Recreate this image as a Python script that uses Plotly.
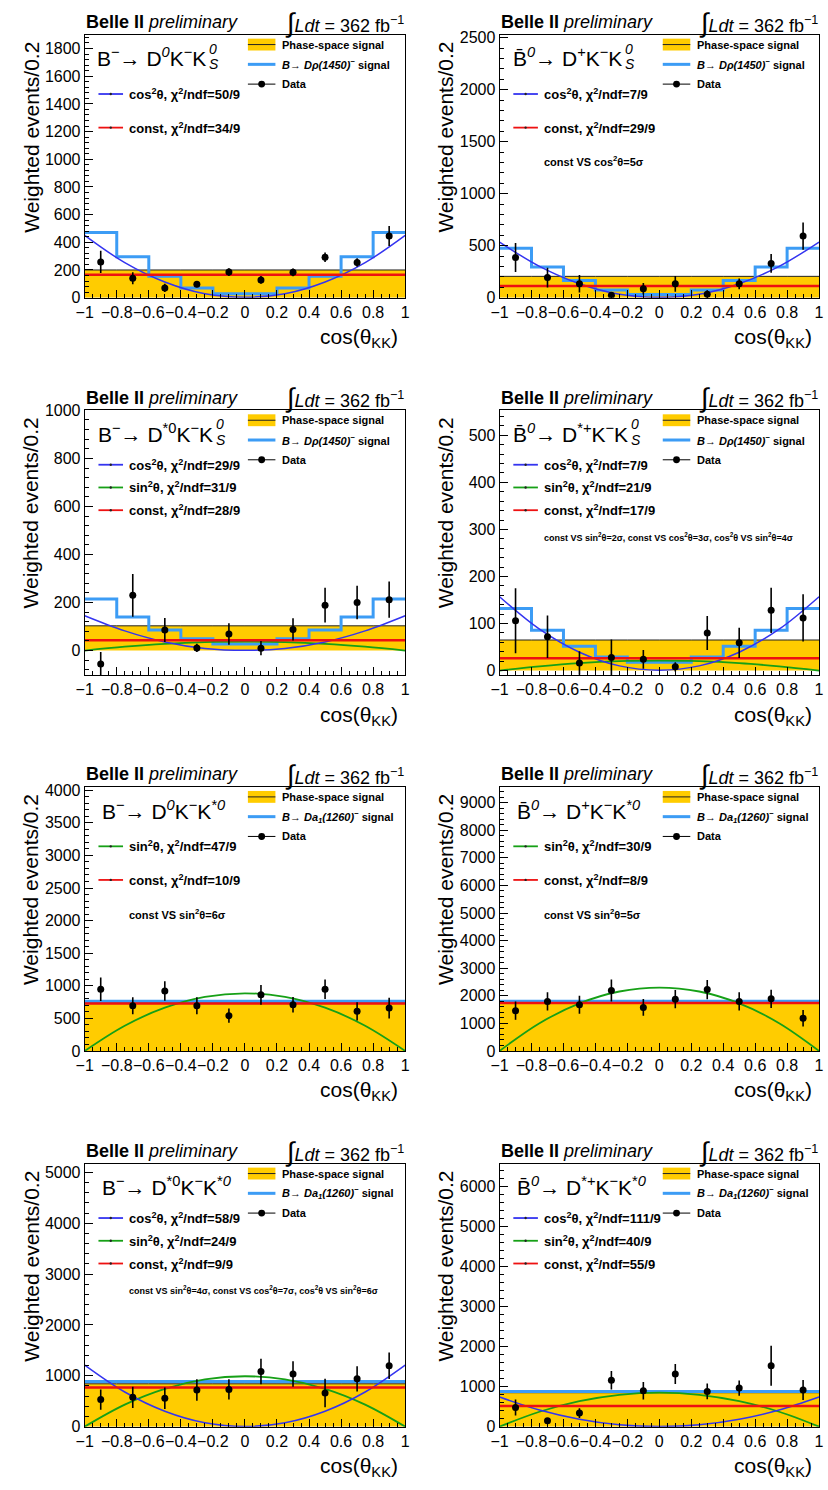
import plotly.graph_objects as go

W, H = 828, 1490
FONT = "Liberation Sans, Arial, Helvetica, sans-serif"

# ---------------- shared binning / axes ----------------
bin_edges = [-1.0, -0.8, -0.6, -0.4, -0.2, 0.0, 0.2, 0.4, 0.6, 0.8, 1.0]
bin_centers = [-0.9, -0.7, -0.5, -0.3, -0.1, 0.1, 0.3, 0.5, 0.7, 0.9]
fit_x = [-1.0, -0.75, -0.5, -0.25, 0.0, 0.25, 0.5, 0.75, 1.0]
x_tick_vals = [-1, -0.8, -0.6, -0.4, -0.2, 0, 0.2, 0.4, 0.6, 0.8, 1]
x_tick_text = ["\u22121", "\u22120.8", "\u22120.6", "\u22120.4", "\u22120.2", "0",
               "0.2", "0.4", "0.6", "0.8", "1"]

# ---------------- panel 1: B- -> D0 K- KS0 ----------------
p1_data = [258, 140, 70, 97, 185, 128, 183, 292, 254, 446]
p1_err = [80, 43, 30, 22, 28, 28, 28, 35, 30, 72]
p1_phsp = [200, 200, 200, 200, 200, 200, 200, 200, 200, 200]
p1_sig = [470, 295, 155, 70, 28, 28, 70, 155, 295, 470]
p1_const = 166
p1_cos2 = [450, 253, 113, 28, 3, 28, 113, 253, 450]
p1_sin2 = None
p1_yrange = [0, 1900]
p1_dtick = 200

# ---------------- panel 2: B0bar -> D+ K- KS0 ----------------
p2_data = [386, 193, 133, 22, 85, 133, 32, 133, 329, 592]
p2_err = [140, 95, 84, 30, 55, 75, 40, 52, 90, 130]
p2_phsp = [205, 205, 205, 205, 205, 205, 205, 205, 205, 205]
p2_sig = [475, 294, 165, 73, 30, 30, 73, 165, 294, 475]
p2_const = 111
p2_cos2 = [535, 301, 134, 33, 3, 33, 134, 301, 535]
p2_sin2 = None
p2_yrange = [0, 2530]
p2_dtick = 500

# ---------------- panel 3: B- -> D*0 K- KS0 ----------------
p3_data = [-56, 230, 86, 11, 69, 10, 88, 189, 200, 212]
p3_err = [50, 89, 50, 17, 45, 30, 46, 72, 70, 75]
p3_phsp = [103, 103, 103, 103, 103, 103, 103, 103, 103, 103]
p3_sig = [215, 140, 86, 49, 27, 27, 49, 86, 140, 215]
p3_const = 43
p3_cos2 = [145, 82, 36, 9, 1, 9, 36, 82, 145]
p3_sin2 = [0, 16, 28, 35, 37, 35, 28, 16, 0]
p3_yrange = [-103, 1000]
p3_dtick = 200

# ---------------- panel 4: B0bar -> D*+ K- KS0 ----------------
p4_data = [106, 72, 16, 28, 24, 8, 80, 59, 128, 112]
p4_err = [69, 45, 25, 38, 20, 10, 36, 32, 48, 50]
p4_phsp = [65, 65, 65, 65, 65, 65, 65, 65, 65, 65]
p4_sig = [132, 86, 52, 29, 18, 18, 29, 52, 86, 132]
p4_const = 26
p4_cos2 = [157, 88, 39, 10, 1, 10, 39, 88, 157]
p4_sin2 = [0, 9, 16, 20, 21, 20, 16, 9, 0]
p4_yrange = [-10, 553]
p4_dtick = 100

# ---------------- panel 5: B- -> D0 K- K*0 ----------------
p5_data = [947, 694, 921, 694, 542, 861, 709, 947, 608, 658]
p5_err = [180, 130, 150, 130, 110, 150, 120, 150, 140, 160]
p5_phsp = [740, 740, 740, 740, 740, 740, 740, 740, 740, 740]
p5_sig = [762, 762, 762, 762, 762, 762, 762, 762, 762, 762]
p5_const = 730
p5_cos2 = None
p5_sin2 = [0, 387, 664, 830, 885, 830, 664, 387, 0]
p5_yrange = [0, 4050]
p5_dtick = 500

# ---------------- panel 6: B0bar -> D+ K- K*0 ----------------
p6_data = [1460, 1795, 1675, 2190, 1580, 1879, 2226, 1795, 1890, 1185]
p6_err = [330, 330, 330, 400, 300, 330, 350, 330, 330, 300]
p6_phsp = [1760, 1760, 1760, 1760, 1760, 1760, 1760, 1760, 1760, 1760]
p6_sig = [1800, 1800, 1800, 1800, 1800, 1800, 1800, 1800, 1800, 1800]
p6_const = 1735
p6_cos2 = None
p6_sin2 = [0, 1006, 1725, 2156, 2300, 2156, 1725, 1006, 0]
p6_yrange = [0, 9570]
p6_dtick = 1000

# ---------------- panel 7: B- -> D*0 K- K*0 ----------------
p7_data = [531, 576, 557, 719, 732, 1082, 1036, 661, 939, 1198]
p7_err = [200, 210, 210, 210, 200, 250, 250, 280, 250, 260]
p7_phsp = [842, 842, 842, 842, 842, 842, 842, 842, 842, 842]
p7_sig = [887, 887, 887, 887, 887, 887, 887, 887, 887, 887]
p7_const = 771
p7_cos2 = [1210, 681, 303, 76, 3, 76, 303, 681, 1210]
p7_sin2 = [0, 433, 743, 928, 990, 928, 743, 433, 0]
p7_yrange = [0, 5170]
p7_dtick = 1000

# ---------------- panel 8: B0bar -> D*+ K- K*0 ----------------
p8_data = [478, 148, 338, 1162, 898, 1319, 882, 964, 1525, 915]
p8_err = [200, 60, 120, 230, 220, 250, 200, 190, 500, 250]
p8_phsp = [849, 849, 849, 849, 849, 849, 849, 849, 849, 849]
p8_sig = [882, 882, 882, 882, 882, 882, 882, 882, 882, 882]
p8_const = 519
p8_cos2 = [740, 416, 185, 46, 3, 46, 185, 416, 740]
p8_sin2 = [0, 372, 638, 797, 850, 797, 638, 372, 0]
p8_yrange = [0, 6580]
p8_dtick = 1000

# ---------------- texts ----------------
# decay labels: main part; for K_S^0 final states the stacked "0"/"S" is drawn separately
decay_main = [
    "B<sup>\u2212</sup>\u2192 D<sup><i>0</i></sup>K<sup>\u2212</sup>K",
    "B\u0304<sup><i>0</i></sup>\u2192 D<sup>+</sup>K<sup>\u2212</sup>K",
    "B<sup>\u2212</sup>\u2192 D<sup>*0</sup>K<sup>\u2212</sup>K",
    "B\u0304<sup><i>0</i></sup>\u2192 D<sup>*+</sup>K<sup>\u2212</sup>K",
    "B<sup>\u2212</sup>\u2192 D<sup><i>0</i></sup>K<sup>\u2212</sup>K<sup>*<i>0</i></sup>",
    "B\u0304<sup><i>0</i></sup>\u2192 D<sup>+</sup>K<sup>\u2212</sup>K<sup>*<i>0</i></sup>",
    "B<sup>\u2212</sup>\u2192 D<sup>*0</sup>K<sup>\u2212</sup>K<sup>*<i>0</i></sup>",
    "B\u0304<sup><i>0</i></sup>\u2192 D<sup>*+</sup>K<sup>\u2212</sup>K<sup>*<i>0</i></sup>",
]
ks_stack = [True, True, True, True, False, False, False, False]
kend_px = [124, 126, 132, 132, None, None, None, None]
chi2_cos = ["50/9", "7/9", "29/9", "7/9", None, None, "58/9", "111/9"]
chi2_sin = [None, None, "31/9", "21/9", "47/9", "30/9", "24/9", "40/9"]
chi2_const = ["34/9", "29/9", "28/9", "17/9", "10/9", "8/9", "9/9", "55/9"]
signif_text = [
    None,
    "const VS cos<sup>2</sup>\u03b8=5\u03c3",
    None,
    "const VS sin<sup>2</sup>\u03b8=2\u03c3, const VS cos<sup>2</sup>\u03b8=3\u03c3, cos<sup>2</sup>\u03b8 VS sin<sup>2</sup>\u03b8=4\u03c3",
    "const VS sin<sup>2</sup>\u03b8=6\u03c3",
    "const VS sin<sup>2</sup>\u03b8=5\u03c3",
    "const VS sin<sup>2</sup>\u03b8=4\u03c3, const VS cos<sup>2</sup>\u03b8=7\u03c3, cos<sup>2</sup>\u03b8 VS sin<sup>2</sup>\u03b8=6\u03c3",
    None,
]
signal_names = ["<i>B\u2192 D\u03c1(1450)</i><sup>\u2212</sup> signal"] * 4 + \
               ["<i>B\u2192 Da<sub>1</sub>(1260)</i><sup>\u2212</sup> signal"] * 4

panels = [
    dict(data=p1_data, err=p1_err, phsp=p1_phsp, sig=p1_sig, const=p1_const, cos2=p1_cos2, sin2=p1_sin2, yr=p1_yrange, dt=p1_dtick),
    dict(data=p2_data, err=p2_err, phsp=p2_phsp, sig=p2_sig, const=p2_const, cos2=p2_cos2, sin2=p2_sin2, yr=p2_yrange, dt=p2_dtick),
    dict(data=p3_data, err=p3_err, phsp=p3_phsp, sig=p3_sig, const=p3_const, cos2=p3_cos2, sin2=p3_sin2, yr=p3_yrange, dt=p3_dtick),
    dict(data=p4_data, err=p4_err, phsp=p4_phsp, sig=p4_sig, const=p4_const, cos2=p4_cos2, sin2=p4_sin2, yr=p4_yrange, dt=p4_dtick),
    dict(data=p5_data, err=p5_err, phsp=p5_phsp, sig=p5_sig, const=p5_const, cos2=p5_cos2, sin2=p5_sin2, yr=p5_yrange, dt=p5_dtick),
    dict(data=p6_data, err=p6_err, phsp=p6_phsp, sig=p6_sig, const=p6_const, cos2=p6_cos2, sin2=p6_sin2, yr=p6_yrange, dt=p6_dtick),
    dict(data=p7_data, err=p7_err, phsp=p7_phsp, sig=p7_sig, const=p7_const, cos2=p7_cos2, sin2=p7_sin2, yr=p7_yrange, dt=p7_dtick),
    dict(data=p8_data, err=p8_err, phsp=p8_phsp, sig=p8_sig, const=p8_const, cos2=p8_cos2, sin2=p8_sin2, yr=p8_yrange, dt=p8_dtick),
]

# ---------------- styling / layout geometry (pixels) ----------------
ORANGE = "#ffcc00"
SIGBLUE = "#3c9cf5"
CURVEBLUE = "#3434f0"
GREEN = "#16a016"
RED = "#ee1111"
col_px = [(77, 403), (499, 824)]
row_px = [(27, 293), (407, 675), (788, 1055), (1169, 1435)]


def P(x, y):
    return x / W, 1 - y / H


fig = go.Figure()
annotations = []
shapes = []


def ann(x, y, text, size, xanchor="left", yanchor="middle", angle=0, color="black"):
    px, py = P(x, y)
    annotations.append(dict(x=px, y=py, xref="paper", yref="paper", text=text,
                            showarrow=False, xanchor=xanchor, yanchor=yanchor,
                            textangle=angle, borderpad=0,
                            font=dict(family=FONT, size=size, color=color)))


def hline(x0, x1, y, color, width):
    a0, b0 = P(x0, y)
    a1, _ = P(x1, y)
    shapes.append(dict(type="line", xref="paper", yref="paper", x0=a0, x1=a1, y0=b0, y1=b0,
                       line=dict(color=color, width=width)))


def dot(cx, cy, r, color):
    a0, b0 = P(cx - r, cy - r)
    a1, b1 = P(cx + r, cy + r)
    shapes.append(dict(type="circle", xref="paper", yref="paper", x0=a0, x1=a1, y0=b1, y1=b0,
                       fillcolor=color, line=dict(color=color, width=0)))


def rect(x0, y0, x1, y1, color):
    a0, b0 = P(x0, y0)
    a1, b1 = P(x1, y1)
    shapes.append(dict(type="rect", xref="paper", yref="paper", x0=a0, x1=a1, y0=b1, y1=b0,
                       fillcolor=color, line=dict(width=0)))


for i, p in enumerate(panels):
    r, c = divmod(i, 2)
    L, R = col_px[c]
    T, B = row_px[r]
    n = "" if i == 0 else str(i + 1)
    xa, ya = "x" + n, "y" + n

    step_x = bin_edges
    # phase-space signal (filled)
    fig.add_trace(go.Scatter(x=step_x, y=p["phsp"] + [p["phsp"][-1]], mode="lines",
                             line=dict(color="#222222", width=1, shape="hv"),
                             fill="tozeroy", fillcolor=ORANGE, xaxis=xa, yaxis=ya,
                             showlegend=False, hoverinfo="skip"))
    # signal model histogram
    fig.add_trace(go.Scatter(x=step_x, y=p["sig"] + [p["sig"][-1]], mode="lines",
                             line=dict(color=SIGBLUE, width=3, shape="hv"),
                             xaxis=xa, yaxis=ya, showlegend=False, hoverinfo="skip"))
    # fit curves
    if p["sin2"] is not None:
        fig.add_trace(go.Scatter(x=fit_x, y=p["sin2"], mode="lines",
                                 line=dict(color=GREEN, width=1.8, shape="spline"),
                                 xaxis=xa, yaxis=ya, showlegend=False))
    if p["cos2"] is not None:
        fig.add_trace(go.Scatter(x=fit_x, y=p["cos2"], mode="lines",
                                 line=dict(color=CURVEBLUE, width=1.5, shape="spline"),
                                 xaxis=xa, yaxis=ya, showlegend=False))
    fig.add_trace(go.Scatter(x=[bin_edges[0], bin_edges[-1]], y=[p["const"], p["const"]],
                             mode="lines", line=dict(color=RED, width=2.5),
                             xaxis=xa, yaxis=ya, showlegend=False))
    # data
    fig.add_trace(go.Scatter(x=bin_centers, y=p["data"], mode="markers",
                             marker=dict(color="black", size=7),
                             error_y=dict(type="data", array=p["err"], width=0,
                                          thickness=1.6, color="black"),
                             xaxis=xa, yaxis=ya, showlegend=False))

    dt = p["dt"]
    fig.update_layout(**{
        ("xaxis" + n): dict(domain=[L / W, R / W], anchor=ya, range=[-1, 1],
                            tickvals=x_tick_vals, ticktext=x_tick_text, tickangle=0,
                            ticks="inside", ticklen=8, tickwidth=1, tickcolor="black",
                            minor=dict(dtick=0.05, ticks="inside", ticklen=4, tickcolor="black"),
                            showline=True, linecolor="black", linewidth=1, mirror=True,
                            showgrid=False, zeroline=False,
                            tickfont=dict(family=FONT, size=16, color="black")),
        ("yaxis" + n): dict(domain=[1 - B / H, 1 - T / H], anchor=xa, range=p["yr"],
                            tick0=0, dtick=dt,
                            ticks="inside", ticklen=8, tickwidth=1, tickcolor="black",
                            minor=dict(dtick=dt / 5, ticks="inside", ticklen=4, tickcolor="black"),
                            showline=True, linecolor="black", linewidth=1, mirror=True,
                            showgrid=False, zeroline=False,
                            tickformat="d",
                            tickfont=dict(family=FONT, size=16, color="black")),
    })

    # header texts
    ann(L, T - 13, "<b>Belle II</b> <i>preliminary</i>", 18)
    ann(R, T - 12, "<span style='font-size:27px'>\u222b</span><i>Ldt</i> = 362 fb<sup>\u22121</sup>",
        18, xanchor="right")
    # axis titles
    ann(L - 55, T + 6, "Weighted events/0.2", 21, xanchor="center", yanchor="top", angle=-90)
    ann(R - 6, B + 41, "cos(\u03b8<sub>KK</sub>)", 21, xanchor="right")
    # decay label
    if ks_stack[i]:
        ke = L + kend_px[i]
        ann(ke, T + 23, decay_main[i], 21, xanchor="right", yanchor="bottom" if False else "middle")
        ann(ke + 1, T + 14, "<i>0</i>", 14)
        ann(ke + 1, T + 30, "<i>S</i>", 14)
    else:
        ann(L + 17, T + 23, decay_main[i], 21)

    # right legend
    rect(L + 166, T + 4, L + 194, T + 16, ORANGE)
    hline(L + 166, L + 194, T + 10, "#222222", 1)
    ann(L + 200, T + 10, "<b>Phase-space signal</b>", 11)
    hline(L + 166, L + 194, T + 30, SIGBLUE, 3)
    ann(L + 200, T + 30, "<b>" + signal_names[i] + "</b>", 11)
    hline(L + 166, L + 194, T + 50, "black", 1)
    dot(L + 180, T + 50, 3.5, "black")
    ann(L + 200, T + 50, "<b>Data</b>", 11)

    # left legend (fit models)
    entries = []
    if chi2_cos[i]:
        entries.append((CURVEBLUE, "cos<sup>2</sup>\u03b8, \u03c7<sup>2</sup>/ndf=" + chi2_cos[i]))
    if chi2_sin[i]:
        entries.append((GREEN, "sin<sup>2</sup>\u03b8, \u03c7<sup>2</sup>/ndf=" + chi2_sin[i]))
    entries.append((RED, "const, \u03c7<sup>2</sup>/ndf=" + chi2_const[i]))
    ys = [T + 60, T + 94] if len(entries) == 2 else [T + 55, T + 78, T + 101]
    for (col, txt), yy in zip(entries, ys):
        hline(L + 14, L + 39, yy, col, 1.8)
        dot(L + 26.5, yy, 1.2, "#222222")
        ann(L + 44, yy, "<b>" + txt + "</b>", 13)

    if signif_text[i]:
        long_txt = len(signif_text[i]) > 60
        ann(L + 44, T + 128, "<b>" + signif_text[i] + "</b>", 9 if long_txt else 11)

fig.update_layout(width=W, height=H, margin=dict(l=0, r=0, t=0, b=0),
                  paper_bgcolor="white", plot_bgcolor="white",
                  annotations=annotations, shapes=shapes, showlegend=False,
                  font=dict(family=FONT, color="black"))

fig.write_html("out.html", config={"displayModeBar": False},
               post_script="document.body.style.margin='0';document.body.style.padding='0';"
                           "document.documentElement.style.overflow='hidden';")
